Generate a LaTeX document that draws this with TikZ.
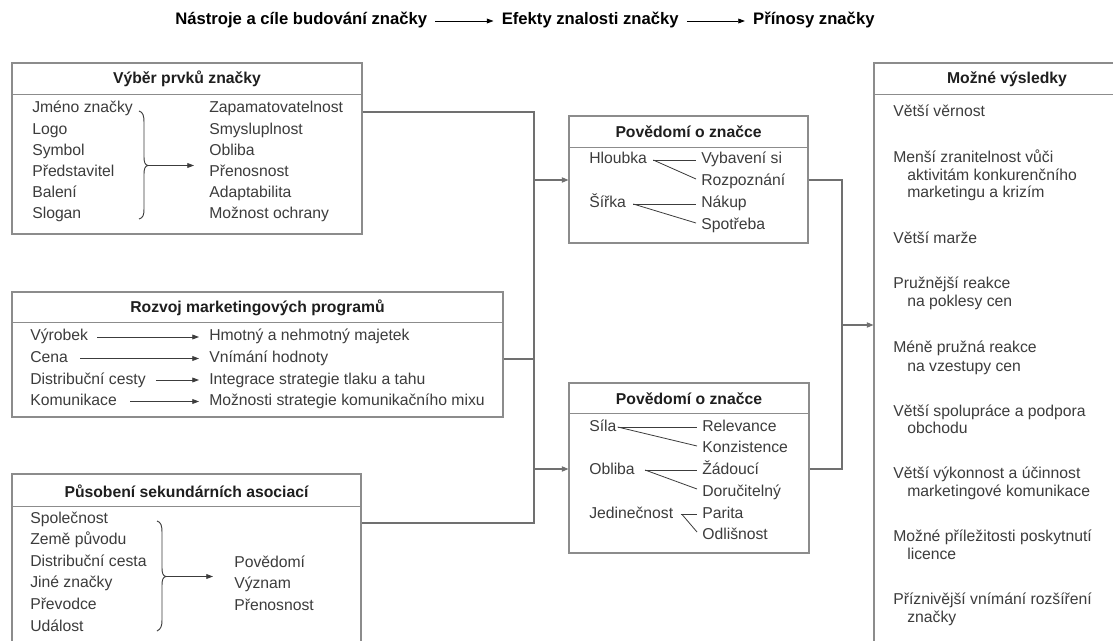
\documentclass[tikz,border=0pt]{standalone}
\usepackage{fontspec}
\setmainfont{Liberation Sans}
\usetikzlibrary{arrows.meta,calc,fit}
\definecolor{boxgray}{HTML}{8C8C8C}
\definecolor{linegray}{HTML}{707070}
\definecolor{txtgray}{HTML}{3C3C3C}
\definecolor{headblack}{HTML}{1E1E1E}
\newcommand\bodysize{\fontsize{11.8pt}{13.1pt}\selectfont}
\newcommand\titlesize{\fontsize{12.5pt}{14pt}\selectfont}

\begin{document}
\begin{tikzpicture}[x=0.75pt,y=-0.75pt,
  box/.style={draw=boxgray, line width=0.8pt, inner sep=0pt},
  sep/.style={draw=boxgray, line width=0.8pt},
  head/.style={font=\bodysize\bfseries, text=headblack, inner sep=0pt},
  txt/.style={font=\bodysize, text=txtgray, anchor=west, inner sep=0pt, text height=8.5pt, text depth=2.5pt},
  ttl/.style={font=\titlesize\bfseries, text=black, anchor=west, inner sep=0pt, text height=9pt, text depth=3pt},
  link/.style={draw=linegray, line width=0.8pt},
  flow/.style={link, -{Triangle[length=5pt,width=4pt]}},
  inarrow/.style={draw=txtgray, line width=0.6pt, -{Triangle[length=5pt,width=3.6pt]}},
  fork/.style={draw=txtgray, line width=0.6pt},
  bracepath/.style={draw=txtgray, line width=0.7pt},
]
\useasboundingbox (0,0) rectangle (1113,641);
\fill[white] (0,0) rectangle (1113,641);
\clip (0,0) rectangle (1113,641);

% ---- title line ----
\node[ttl] (t1) at (175,21) {Nástroje a cíle budování značky};
\node[ttl] (t2) at ($(t1.east)+(74,0)$) {Efekty znalosti značky};
\node[ttl] (t3) at ($(t2.east)+(74,0)$) {Přínosy značky};
\draw[inarrow, draw=black] ($(t1.east)+(8,0)$) -- ($(t2.west)+(-8,0)$);
\draw[inarrow, draw=black] ($(t2.east)+(8,0)$) -- ($(t3.west)+(-8,0)$);

% ---- boxes ----
\node[box, fit={(12,63) (362,234)}] (b1) {};
\node[box, fit={(12,292) (503,417)}] (b2) {};
\node[box, fit={(12,474) (361,680)}] (b3) {};
\node[box, fit={(569,116) (808,243)}] (pu) {};
\node[box, fit={(569,383) (809,553)}] (pl) {};
\node[box, fit={(874,63) (1140,680)}] (pr) {};

\draw[sep] ($(b1.north west)+(0,32)$) -- ($(b1.north east)+(0,32)$);
\draw[sep] ($(b2.north west)+(0,31)$) -- ($(b2.north east)+(0,31)$);
\draw[sep] ($(b3.north west)+(0,33)$) -- ($(b3.north east)+(0,33)$);
\draw[sep] ($(pu.north west)+(0,32)$) -- ($(pu.north east)+(0,32)$);
\draw[sep] ($(pl.north west)+(0,31)$) -- ($(pl.north east)+(0,31)$);
\draw[sep] ($(pr.north west)+(0,32)$) -- ($(pr.north east)+(0,32)$);

\node[head] (h1) at (187,79) {Výběr prvků značky};
\node[head] (h2) at (257.5,307.5) {Rozvoj marketingových programů};
\node[head] (h3) at (186.5,491) {Působení sekundárních asociací};
\node[head] (h4) at (688.5,132) {Povědomí o značce};
\node[head] (h5) at (689,398.5) {Povědomí o značce};
\node[head] (h6) at (1007,79) {Možné výsledky};

% ---- brand elements ----
\foreach \t [count=\i] in {Jméno značky, Logo, Symbol, Představitel, Balení, Slogan}
  \node[txt] (b1l\i) at (32, 87.8+21.2*\i) {\t};
\foreach \t [count=\i] in {Zapamatovatelnost, Smysluplnost, Obliba, Přenosnost, Adaptabilita, Možnost ochrany}
  \node[txt] (b1r\i) at (209, 87.8+21.2*\i) {\t};
\draw[bracepath] (139,111) .. controls (143,112) and (144,116) .. (144,122)
  -- (144,157) .. controls (144,162) and (145,165) .. (148,165.5)
  .. controls (145,166) and (144,169) .. (144,174)
  -- (144,209) .. controls (144,215) and (143,218) .. (139,219);
\coordinate (br1) at (148,165.5);
\coordinate (br1e) at (194,165.5);
\draw[inarrow] (br1) -- (br1e);

% ---- marketing programmes ----
\foreach \l/\r/\g [count=\i] in {Výrobek/Hmotný a nehmotný majetek/9,
    Cena/Vnímání hodnoty/12,
    Distribuční cesty/Integrace strategie tlaku a tahu/10,
    Komunikace/Možnosti strategie komunikačního mixu/13}{
  \node[txt] (b2l\i) at (30, 315.5+21.5*\i) {\l};
  \node[txt] (b2r\i) at (209, 315.5+21.5*\i) {\r};
  \draw[inarrow] ($(b2l\i.east)+(\g,0)$) -- ($(b2r\i.west)+(-10,0)$);
}

% ---- secondary associations ----
\foreach \t [count=\i] in {Společnost, Země původu, Distribuční cesta, Jiné značky, Převodce, Událost}
  \node[txt] (b3l\i) at (30, 497.4+21.6*\i) {\t};
\foreach \t [count=\i] in {Povědomí, Význam, Přenosnost}
  \node[txt] (b3r\i) at (234, 541.4+21.6*\i) {\t};
\draw[bracepath] (157,521) .. controls (161,522) and (162,526) .. (162,532)
  -- (162,568) .. controls (162,573) and (163,576) .. (166,576.5)
  .. controls (163,577) and (162,580) .. (162,585)
  -- (162,620) .. controls (162,626) and (161,629) .. (157,631);
\coordinate (br3) at (166,576.5);
\coordinate (br3e) at (213,576.5);
\draw[inarrow] (br3) -- (br3e);

% ---- awareness box ----
\node[txt] (hl) at (589,160) {Hloubka};
\node[txt] (sr) at (589,204) {Šířka};
\node[txt] (vy) at (701,160) {Vybavení si};
\node[txt] (rz) at (701,182) {Rozpoznání};
\node[txt] (nk) at (701,204) {Nákup};
\node[txt] (sp) at (701,226) {Spotřeba};
\draw[fork] ($(hl.east)+(6,0)$) coordinate (hf) -- ($(vy.west)+(-5,0)$);
\draw[fork] (hf) -- ($(rz.west)+(-5,-3)$);
\draw[fork] ($(sr.east)+(7,0)$) coordinate (sf) -- ($(nk.west)+(-5,0)$);
\draw[fork] (sf) -- ($(sp.west)+(-5,-3)$);

% ---- second awareness box ----
\node[txt] (sl) at (589,427) {Síla};
\node[txt] (ob) at (589,470) {Obliba};
\node[txt] (jd) at (589,514) {Jedinečnost};
\node[txt] (rv) at (702,427) {Relevance};
\node[txt] (kz) at (702,448) {Konzistence};
\node[txt] (zd) at (702,470) {Žádoucí};
\node[txt] (dr) at (702,492) {Doručitelný};
\node[txt] (pa) at (702,514) {Parita};
\node[txt] (od) at (702,535) {Odlišnost};
\draw[fork] ($(sl.east)+(1,0)$) coordinate (slf) -- ($(rv.west)+(-5,0)$);
\draw[fork] (slf) -- ($(kz.west)+(-5,-2)$);
\draw[fork] ($(ob.east)+(10,0)$) coordinate (obf) -- ($(zd.west)+(-5,0)$);
\draw[fork] (obf) -- ($(dr.west)+(-5,-3)$);
\draw[fork] ($(jd.east)+(7,0)$) coordinate (jdf) -- ($(pa.west)+(-5,0)$);
\draw[fork] ($(jdf)+(2,1)$) -- ($(od.west)+(-5,-3)$);

% ---- outcomes ----
\foreach \y/\dx/\t [count=\i] in {
    113/0/Větší věrnost,
    159/0/Menší zranitelnost vůči,
    177/14/aktivitám konkurenčního,
    194/14/marketingu a krizím,
    240/0/Větší marže,
    285/0/Pružnější reakce,
    303/14/na poklesy cen,
    349/0/Méně pružná reakce,
    367/14/na vzestupy cen,
    412/0/Větší spolupráce a podpora,
    429/14/obchodu,
    474/0/Větší výkonnost a účinnost,
    492/14/marketingové komunikace,
    537/0/Možné příležitosti poskytnutí,
    555/14/licence,
    600/0/Příznivější vnímání rozšíření,
    618/14/značky}
  \node[txt] (out\i) at (893+\dx, \y) {\t};

% ---- connectors ----
\coordinate (jA) at (534,112);
\coordinate (jU) at (534,180);
\coordinate (jM) at (534,359);
\coordinate (jL) at (534,469);
\coordinate (jB) at (534,523);
\draw[link] (b1.east |- jA) -- (jA) -- (jB) -- (b3.east |- jB);
\draw[link] (b2.east |- jM) -- (jM);
\draw[flow] (jU) -- (pu.west |- jU);
\draw[flow] (jL) -- (pl.west |- jL);

\coordinate (kA) at (842,180);
\coordinate (kM) at (842,325);
\coordinate (kB) at (842,469);
\draw[link] (pu.east |- kA) -- (kA) -- (kB) -- (pl.east |- kB);
\draw[flow] (kM) -- (pr.west |- kM);
\end{tikzpicture}
\end{document}
